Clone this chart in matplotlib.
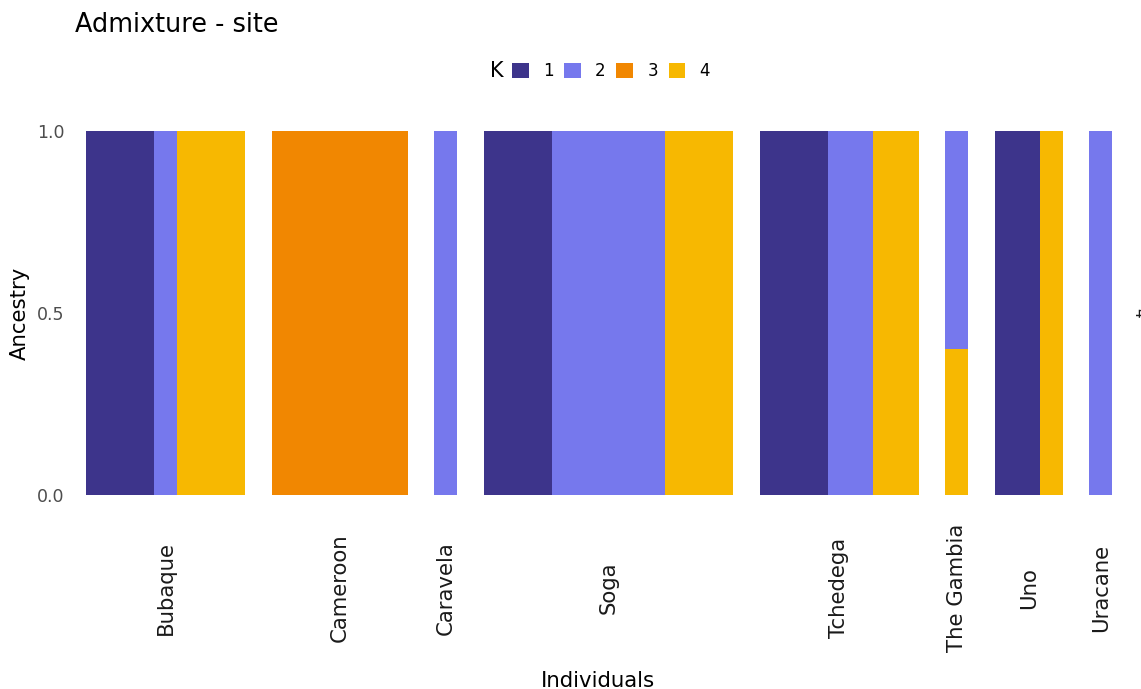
import numpy as np
import matplotlib.pyplot as plt
from matplotlib.patches import Patch

# Sites and the number of individuals sampled at each
sites = ["Bubaque", "Cameroon", "Caravela", "Soga", "Tchedega", "The Gambia", "Uno", "Uracane"]
counts = [7, 6, 1, 11, 7, 1, 3, 1]

# Ancestry proportions per individual (K = 4), in site order
q1 = [1, 1, 1, 0, 0, 0, 0,
      0, 0, 0, 0, 0, 0,
      0,
      1, 1, 1, 0, 0, 0, 0, 0, 0, 0, 0,
      1, 1, 1, 0, 0, 0, 0,
      0,
      1, 1, 0,
      0]
q2 = [0, 0, 0, 1, 0, 0, 0,
      0, 0, 0, 0, 0, 0,
      1,
      0, 0, 0, 1, 1, 1, 1, 1, 0, 0, 0,
      0, 0, 0, 1, 1, 0, 0,
      0.6,
      0, 0, 0,
      1]
q3 = [0, 0, 0, 0, 0, 0, 0,
      1, 1, 1, 1, 1, 1,
      0,
      0, 0, 0, 0, 0, 0, 0, 0, 0, 0, 0,
      0, 0, 0, 0, 0, 0, 0,
      0,
      0, 0, 0,
      0]
q4 = [0, 0, 0, 0, 1, 1, 1,
      0, 0, 0, 0, 0, 0,
      0,
      0, 0, 0, 0, 0, 0, 0, 0, 1, 1, 1,
      0, 0, 0, 0, 0, 1, 1,
      0.4,
      0, 0, 1,
      0]
k_labels = ["1", "2", "3", "4"]
colors = ["#3D348B", "#7678ED", "#F18701", "#F7B801"]

Q = np.array([q1, q2, q3, q4])

W, H = 1141, 689
fig = plt.figure(figsize=(W / 100, H / 100), dpi=100)

left_px, right_px = 86, 1112
gap_px = 26.5
top_px, bot_px = 131, 495
unit = (right_px - left_px - gap_px * (len(sites) - 1)) / sum(counts)

start = 0
x_px = left_px
axes = []
for i, (site, n) in enumerate(zip(sites, counts)):
    w_px = n * unit
    ax = fig.add_axes([x_px / W, 1 - bot_px / H, w_px / W, (bot_px - top_px) / H])
    idx = np.arange(n)
    block = Q[:, start:start + n]
    # stack with K=4 at the bottom, K=1 on top
    bottom = np.zeros(n)
    for k in [3, 2, 1, 0]:
        ax.bar(idx, block[k], width=1.0, bottom=bottom, color=colors[k],
               linewidth=0)
        bottom += block[k]
    ax.set_xlim(-0.5, n - 0.5)
    ax.set_ylim(0, 1)
    ax.set_xticks([])
    for s in ax.spines.values():
        s.set_visible(False)
    if i == 0:
        ax.set_yticks([0, 0.5, 1.0])
        ax.set_yticklabels(["0.0", "0.5", "1.0"], fontsize=12.5, color="#4D4D4D")
        ax.tick_params(axis="y", length=0, pad=15.5)
    else:
        ax.set_yticks([])
    # facet strip label under the panel
    ax.text(0.5, -0.255, site, transform=ax.transAxes, rotation=90,
            ha="center", va="center", fontsize=15.3, color="#1A1A1A")
    axes.append(ax)
    start += n
    x_px += w_px + gap_px

# right strip for K, mostly past the edge
fig.text(1131 / W, 1 - 313 / H, "4", rotation=270, ha="left", va="center",
         fontsize=11, color="#1A1A1A")

fig.text(20 / W, 1 - 313 / H, "Ancestry", rotation=90, ha="center", va="center",
         fontsize=15.3)
fig.text(598 / W, 1 - 681 / H, "Individuals", ha="center", va="center",
         fontsize=15.3)
fig.text(75 / W, 1 - 25 / H, "Admixture - site", ha="left", va="center",
         fontsize=18.4)

# legend along the top
fig.text(497 / W, 1 - 71 / H, "K", ha="center", va="center", fontsize=15)
handles = [Patch(facecolor=c, edgecolor="none") for c in colors]
fig.legend(handles, k_labels, loc="center", bbox_to_anchor=(611 / W, 1 - 71 / H),
           ncol=4, frameon=False, fontsize=12, handlelength=1.0, handleheight=1.0,
           handletextpad=0.85, columnspacing=0.65, borderpad=0)

fig.savefig("out.png", dpi=100)
